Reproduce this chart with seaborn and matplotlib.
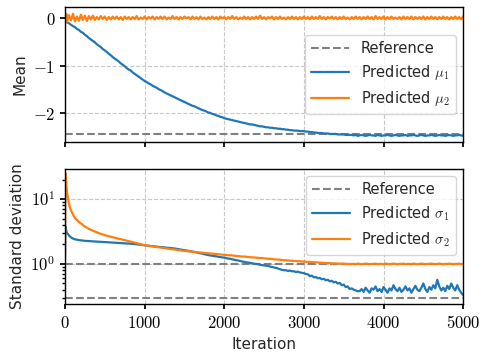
import numpy as np
import pandas as pd
import matplotlib
matplotlib.use("Agg")
import matplotlib.pyplot as plt
from matplotlib.ticker import FuncFormatter, FixedLocator
import seaborn as sns

# iteration grid shared by all series
iters = [0, 5, 10, 15, 20] + list(range(25, 5001, 25))

# predicted means
mu1 = [0.00, -0.02, -0.04, -0.05, -0.07,
       -0.09, -0.11, -0.14, -0.17, -0.19, -0.23, -0.25, -0.29,
       -0.31, -0.35, -0.38, -0.42, -0.45, -0.48, -0.51, -0.55,
       -0.58, -0.61, -0.65, -0.68, -0.71, -0.75, -0.78, -0.82,
       -0.85, -0.88, -0.91, -0.95, -0.98, -1.01, -1.05, -1.08,
       -1.10, -1.14, -1.17, -1.20, -1.23, -1.26, -1.29, -1.32,
       -1.34, -1.37, -1.39, -1.42, -1.44, -1.46, -1.49, -1.51,
       -1.53, -1.56, -1.58, -1.60, -1.62, -1.64, -1.66, -1.68,
       -1.70, -1.72, -1.74, -1.76, -1.78, -1.80, -1.82, -1.84,
       -1.85, -1.87, -1.89, -1.91, -1.93, -1.94, -1.96, -1.98,
       -1.99, -2.01, -2.02, -2.04, -2.05, -2.07, -2.08, -2.10,
       -2.11, -2.12, -2.13, -2.14, -2.15, -2.16, -2.17, -2.18,
       -2.19, -2.20, -2.21, -2.22, -2.23, -2.23, -2.24, -2.25,
       -2.26, -2.27, -2.27, -2.28, -2.29, -2.29, -2.30, -2.30,
       -2.31, -2.31, -2.32, -2.32, -2.33, -2.33, -2.34, -2.34,
       -2.35, -2.35, -2.36, -2.36, -2.36, -2.37, -2.37, -2.37,
       -2.38, -2.38, -2.39, -2.39, -2.40, -2.40, -2.41, -2.41,
       -2.41, -2.42, -2.42, -2.42, -2.43, -2.43, -2.43, -2.43,
       -2.44, -2.44, -2.44, -2.44, -2.45, -2.45, -2.45, -2.45,
       -2.46, -2.45, -2.47, -2.46, -2.45, -2.46, -2.47, -2.46,
       -2.45, -2.46, -2.46, -2.47, -2.45, -2.46, -2.47, -2.46,
       -2.46, -2.45, -2.46, -2.47, -2.46, -2.45, -2.46, -2.47,
       -2.46, -2.46, -2.45, -2.47, -2.46, -2.46, -2.45, -2.46,
       -2.47, -2.46, -2.45, -2.46, -2.47, -2.46, -2.46, -2.45,
       -2.46, -2.47, -2.46, -2.45, -2.46, -2.46, -2.47, -2.46,
       -2.45, -2.46, -2.47, -2.46, -2.46, -2.45, -2.46, -2.47]

mu2 = [0.04, -0.07, 0.09, -0.05, 0.08,
       -0.08, 0.06, -0.05, 0.09, -0.07, 0.03, -0.06, 0.07,
       -0.04, 0.05, -0.06, 0.04, -0.03, 0.05, -0.04, 0.02,
       -0.03, 0.04, -0.02, 0.03, -0.04, 0.02, -0.03, 0.03,
       -0.02, 0.03, -0.03, 0.02, -0.04, 0.03, -0.02, 0.02,
       -0.03, 0.02, -0.02, 0.04, -0.03, 0.01, -0.02, 0.03,
       -0.03, 0.02, -0.01, 0.03, -0.03, 0.02, -0.02, 0.03,
       -0.02, 0.03, -0.03, 0.01, -0.02, 0.04, -0.02, 0.02,
       -0.03, 0.02, -0.02, 0.03, -0.01, 0.02, -0.03, 0.03,
       -0.02, 0.02, -0.03, 0.03, -0.02, 0.01, -0.03, 0.02,
       -0.02, 0.03, -0.02, 0.02, -0.03, 0.03, -0.01, 0.02,
       -0.03, 0.02, -0.02, 0.04, -0.02, 0.02, -0.03, 0.01,
       -0.02, 0.03, -0.02, 0.02, -0.03, 0.02, -0.02, 0.03,
       -0.02, 0.05, -0.02, 0.02, -0.03, 0.02, -0.01, 0.03,
       -0.03, 0.02, -0.02, 0.03, -0.02, 0.01, -0.03, 0.02,
       -0.02, 0.03, -0.02, 0.02, -0.03, 0.02, -0.02, 0.03,
       -0.02, 0.02, -0.03, 0.03, -0.02, 0.02, -0.02, 0.04,
       -0.02, 0.02, -0.03, 0.02, -0.01, 0.03, -0.02, 0.02,
       -0.03, 0.02, -0.02, 0.03, -0.02, 0.01, -0.03, 0.02,
       -0.02, 0.03, -0.02, 0.02, -0.03, 0.02, -0.02, 0.03,
       -0.02, 0.02, -0.03, 0.04, -0.02, 0.02, -0.02, 0.03,
       -0.03, 0.02, -0.02, 0.03, -0.02, 0.01, -0.02, 0.02,
       -0.03, 0.03, -0.02, 0.02, -0.02, 0.03, -0.03, 0.02,
       -0.02, 0.02, -0.02, 0.03, -0.03, 0.02, -0.02, 0.03,
       -0.02, 0.02, -0.03, 0.02, -0.02, 0.03, -0.02, 0.02,
       -0.03, 0.02, -0.02, 0.03, -0.02, 0.02, -0.03, 0.04]

# predicted standard deviations
sigma1 = [1.25, 3.80, 3.55, 3.30, 3.10,
          3.00, 2.75, 2.56, 2.46, 2.40, 2.36, 2.33, 2.31,
          2.29, 2.27, 2.26, 2.25, 2.24, 2.23, 2.22, 2.21,
          2.20, 2.19, 2.18, 2.17, 2.16, 2.15, 2.15, 2.14,
          2.13, 2.12, 2.11, 2.10, 2.09, 2.08, 2.07, 2.06,
          2.05, 2.04, 2.02, 2.01, 1.99, 1.98, 1.96, 1.94,
          1.92, 1.91, 1.89, 1.88, 1.86, 1.85, 1.83, 1.82,
          1.81, 1.80, 1.78, 1.77, 1.76, 1.74, 1.73, 1.71,
          1.69, 1.67, 1.65, 1.63, 1.61, 1.59, 1.57, 1.55,
          1.53, 1.51, 1.48, 1.46, 1.44, 1.41, 1.39, 1.37,
          1.35, 1.34, 1.32, 1.31, 1.29, 1.28, 1.26, 1.25,
          1.23, 1.21, 1.20, 1.18, 1.16, 1.14, 1.13, 1.11,
          1.09, 1.08, 1.06, 1.05, 1.04, 1.02, 1.01, 1.00,
          0.99, 0.97, 0.96, 0.95, 0.94, 0.93, 0.91, 0.90,
          0.88, 0.87, 0.85, 0.83, 0.81, 0.80, 0.80, 0.78,
          0.79, 0.77, 0.77, 0.75, 0.76, 0.74, 0.73, 0.72,
          0.70, 0.69, 0.65, 0.66, 0.62, 0.63, 0.60, 0.61,
          0.58, 0.59, 0.56, 0.57, 0.54, 0.55, 0.52, 0.53,
          0.50, 0.51, 0.47, 0.48, 0.44, 0.45, 0.41, 0.42,
          0.40, 0.39, 0.38, 0.38, 0.41, 0.37, 0.43, 0.39,
          0.36, 0.42, 0.40, 0.45, 0.38, 0.41, 0.37, 0.44,
          0.40, 0.36, 0.42, 0.39, 0.47, 0.41, 0.38, 0.43,
          0.37, 0.40, 0.45, 0.39, 0.42, 0.36, 0.41, 0.46,
          0.40, 0.38, 0.43, 0.50, 0.41, 0.37, 0.44, 0.40,
          0.47, 0.42, 0.57, 0.45, 0.39, 0.43, 0.38, 0.46,
          0.41, 0.50, 0.43, 0.39, 0.47, 0.40, 0.36, 0.33]

sigma2 = [1.30, 25.0, 22.0, 18.0, 15.0,
          12.8, 8.4, 6.7, 5.8, 5.1, 4.75, 4.45, 4.20,
          3.98, 3.78, 3.62, 3.47, 3.35, 3.25, 3.15, 3.06,
          2.98, 2.91, 2.84, 2.78, 2.72, 2.67, 2.62, 2.58,
          2.53, 2.49, 2.45, 2.41, 2.37, 2.33, 2.29, 2.25,
          2.21, 2.17, 2.13, 2.09, 2.05, 2.01, 1.98, 1.95,
          1.92, 1.90, 1.88, 1.86, 1.84, 1.82, 1.80, 1.78,
          1.76, 1.75, 1.73, 1.71, 1.70, 1.68, 1.67, 1.65,
          1.63, 1.62, 1.60, 1.59, 1.58, 1.56, 1.55, 1.54,
          1.53, 1.52, 1.51, 1.50, 1.49, 1.48, 1.47, 1.46,
          1.45, 1.44, 1.43, 1.42, 1.41, 1.40, 1.39, 1.38,
          1.37, 1.36, 1.36, 1.35, 1.34, 1.33, 1.32, 1.31,
          1.30, 1.30, 1.29, 1.28, 1.27, 1.26, 1.26, 1.25,
          1.24, 1.23, 1.23, 1.22, 1.21, 1.20, 1.20, 1.19,
          1.18, 1.17, 1.17, 1.16, 1.15, 1.14, 1.14, 1.13,
          1.12, 1.12, 1.11, 1.11, 1.10, 1.10, 1.09, 1.09,
          1.08, 1.08, 1.07, 1.07, 1.06, 1.06, 1.05, 1.05,
          1.04, 1.04, 1.03, 1.03, 1.03, 1.02, 1.02, 1.02,
          1.01, 1.01, 1.01, 1.01, 1.00, 1.00, 1.00, 1.00,
          1.00, 0.99, 1.01, 1.00, 0.99, 1.00, 1.01, 1.00,
          0.99, 1.00, 1.00, 1.01, 0.99, 1.00, 1.00, 0.99,
          1.01, 1.00, 0.99, 1.00, 1.01, 1.00, 0.99, 1.00,
          1.00, 1.01, 0.99, 1.00, 1.00, 0.99, 1.01, 1.00,
          0.99, 1.00, 1.01, 1.00, 0.99, 1.00, 1.00, 1.01,
          1.00, 0.99, 1.00, 1.01, 1.00, 0.99, 1.00, 1.00,
          1.01, 1.00, 0.99, 1.00, 1.00, 1.01, 0.99, 1.00]

# true values
ref_mean = [-2.44]
ref_std = [1.0, 0.3]

assert len(mu1) == len(mu2) == len(sigma1) == len(sigma2) == len(iters)

df = pd.DataFrame({"Iteration": iters, "mu1": mu1, "mu2": mu2,
                   "sigma1": sigma1, "sigma2": sigma2})

sns.set_theme(style="ticks", rc={"axes.edgecolor": "black", "xtick.color": "black",
                                 "ytick.color": "black", "axes.linewidth": 1.0})
plt.rcParams["font.family"] = ["DejaVu Sans"]
plt.rcParams["mathtext.fontset"] = "cm"

blue = "#1f77b4"
orange = "#ff7f0e"
grey = "#808080"

fig, (ax1, ax2) = plt.subplots(2, 1, figsize=(4.85, 3.52), dpi=100, sharex=True)
fig.subplots_adjust(left=0.134, right=0.955, top=0.98, bottom=0.136, hspace=0.20)

# top: means
for v in ref_mean:
    ax1.axhline(v, color=grey, ls="--", lw=1.5, label="Reference")
sns.lineplot(data=df, x="Iteration", y="mu1", ax=ax1, color=blue, lw=1.6,
             label=r"Predicted $\mu_1$")
sns.lineplot(data=df, x="Iteration", y="mu2", ax=ax1, color=orange, lw=1.6,
             label=r"Predicted $\mu_2$")
ax1.set_ylim(-2.6, 0.23)
ax1.set_ylabel("Mean", fontsize=11)
ax1.yaxis.set_major_locator(FixedLocator([-2, -1, 0]))
ax1.legend(loc="center right", fontsize=10.5, handlelength=2.6, framealpha=0.8)

# bottom: standard deviations
for i, v in enumerate(ref_std):
    ax2.axhline(v, color=grey, ls="--", lw=1.5, label="Reference" if i == 0 else None)
sns.lineplot(data=df, x="Iteration", y="sigma1", ax=ax2, color=blue, lw=1.6,
             label=r"Predicted $\sigma_1$")
sns.lineplot(data=df, x="Iteration", y="sigma2", ax=ax2, color=orange, lw=1.6,
             label=r"Predicted $\sigma_2$")
ax2.set_yscale("log")
ax2.set_ylim(0.24, 29)
ax2.set_ylabel("Standard deviation", fontsize=11)
ax2.set_xlabel("Iteration", fontsize=11)
ax2.set_xlim(0, 5000)
ax2.yaxis.set_major_formatter(FuncFormatter(lambda v, p: r"$10^{%d}$" % round(np.log10(v))))
ax2.legend(loc="upper right", fontsize=10.5, handlelength=2.6, framealpha=0.8)

ax2.xaxis.set_major_formatter(FuncFormatter(lambda v, p: r"$%d$" % v))
ax1.yaxis.set_major_formatter(FuncFormatter(lambda v, p: r"$%d$" % v))

for ax in (ax1, ax2):
    ax.grid(True, which="major", ls="--", lw=0.8, color="#c8c8c8")
    ax.tick_params(labelsize=12, length=3.5)
    ax.tick_params(which="minor", length=2)

plt.savefig("out.png", dpi=100)
